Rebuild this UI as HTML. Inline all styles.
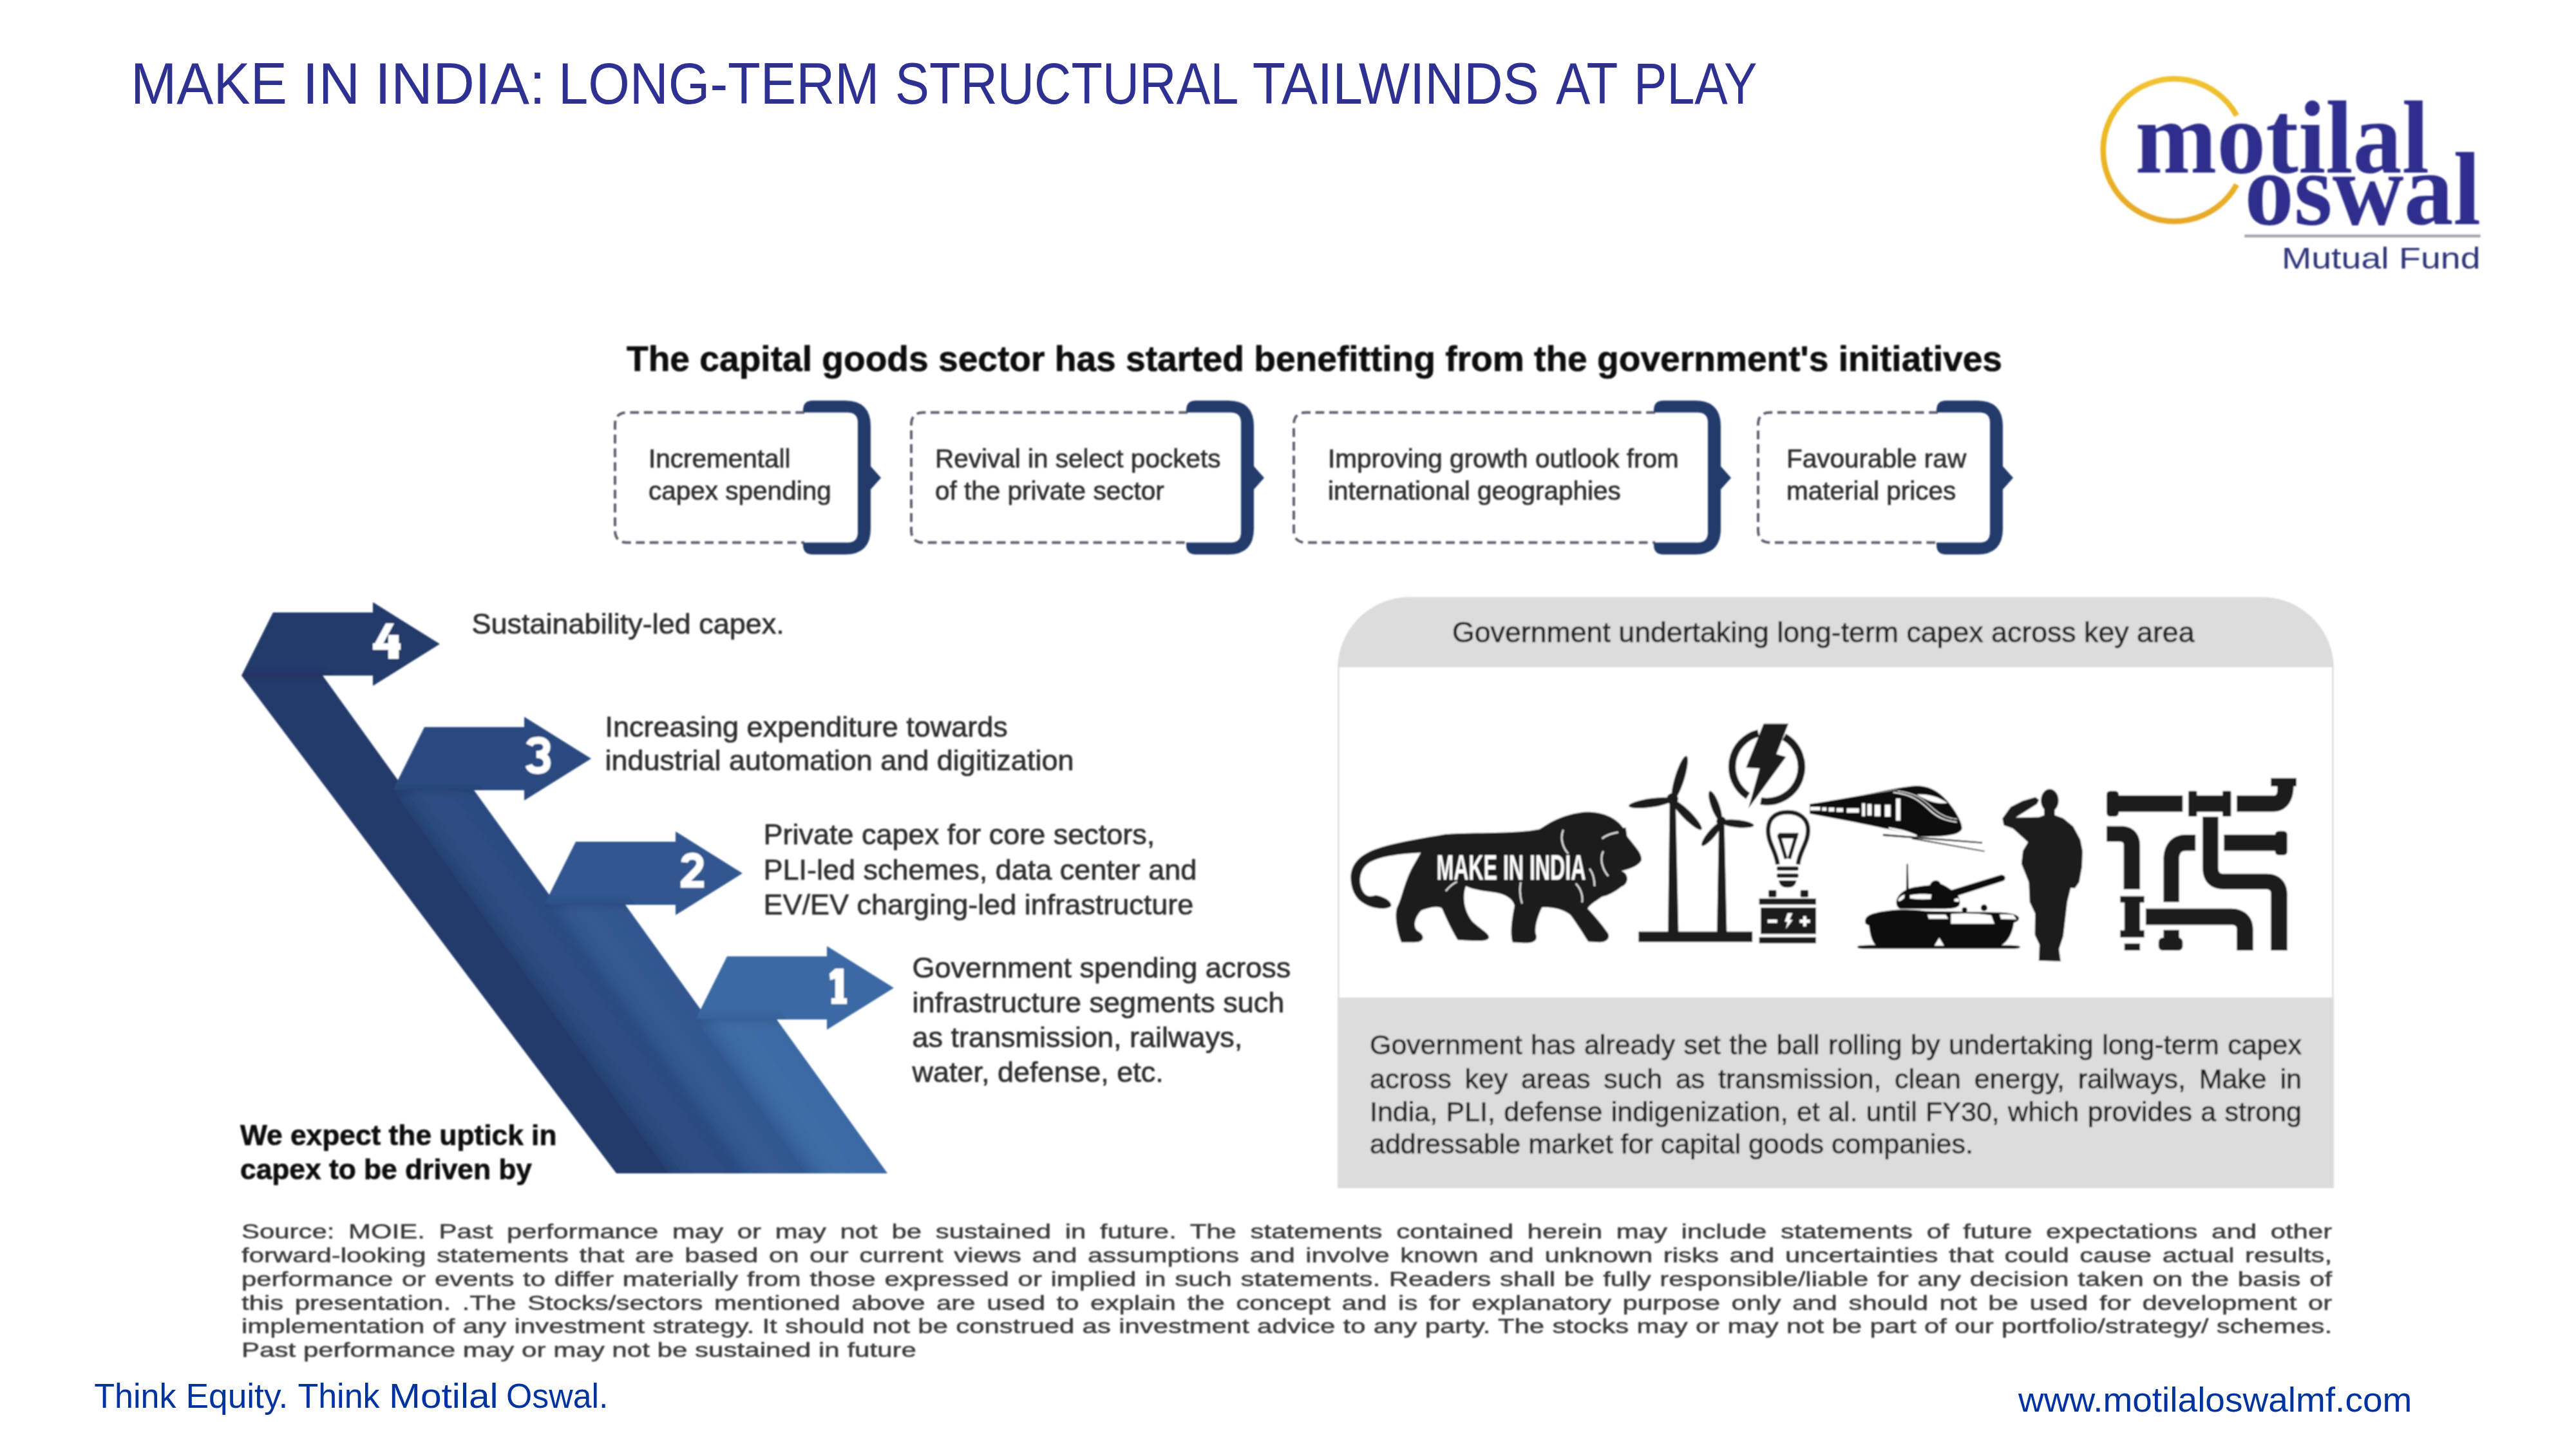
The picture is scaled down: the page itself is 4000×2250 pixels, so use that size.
<!DOCTYPE html>
<html><head><meta charset="utf-8"><title>Make in India</title>
<style>html,body{margin:0;padding:0;background:#fff;} svg{display:block;}</style></head>
<body><svg width="4000" height="2250" viewBox="0 0 4000 2250">
<rect width="4000" height="2250" fill="#fff"/>
<text x="203.0" y="161" font-family="'Liberation Sans', sans-serif" font-size="90.5" font-weight="normal" fill="#2e3192" textLength="242.8" lengthAdjust="spacingAndGlyphs" >MAKE</text>
<text x="469.6" y="161" font-family="'Liberation Sans', sans-serif" font-size="90.5" font-weight="normal" fill="#2e3192" textLength="89.7" lengthAdjust="spacingAndGlyphs" >IN</text>
<text x="582.0" y="161" font-family="'Liberation Sans', sans-serif" font-size="90.5" font-weight="normal" fill="#2e3192" textLength="264.9" lengthAdjust="spacingAndGlyphs" >INDIA:</text>
<text x="867.0" y="161" font-family="'Liberation Sans', sans-serif" font-size="90.5" font-weight="normal" fill="#2e3192" textLength="498.5" lengthAdjust="spacingAndGlyphs" >LONG-TERM</text>
<text x="1390.1" y="161" font-family="'Liberation Sans', sans-serif" font-size="90.5" font-weight="normal" fill="#2e3192" textLength="533.4" lengthAdjust="spacingAndGlyphs" >STRUCTURAL</text>
<text x="1944.7" y="161" font-family="'Liberation Sans', sans-serif" font-size="90.5" font-weight="normal" fill="#2e3192" textLength="445.1" lengthAdjust="spacingAndGlyphs" >TAILWINDS</text>
<text x="2416.0" y="161" font-family="'Liberation Sans', sans-serif" font-size="90.5" font-weight="normal" fill="#2e3192" textLength="96.3" lengthAdjust="spacingAndGlyphs" >AT</text>
<text x="2537.0" y="161" font-family="'Liberation Sans', sans-serif" font-size="90.5" font-weight="normal" fill="#2e3192" textLength="191.4" lengthAdjust="spacingAndGlyphs" >PLAY</text>
<defs><filter id="soft2" x="-2%" y="-2%" width="104%" height="104%"><feGaussianBlur stdDeviation="1.1"/></filter></defs>
<g filter="url(#soft2)">
<svg x="3200" y="80" width="700" height="380" viewBox="0 0 2576 1398">
<defs><linearGradient id="gold" x1="0" y1="0" x2="0" y2="1"><stop offset="0" stop-color="#f1c232"/><stop offset="0.5" stop-color="#e9b824"/><stop offset="1" stop-color="#e8a92a"/></linearGradient></defs>
<path d="M 1005 366 A 407 407 0 1 0 1005 760" fill="none" stroke="url(#gold)" stroke-width="32"/>
<text x="425" y="690" font-family="'Liberation Serif', serif" font-size="590" font-weight="bold" fill="#2d2e8c" textLength="1680" lengthAdjust="spacingAndGlyphs">motilal</text>
<text x="1050" y="985" font-family="'Liberation Serif', serif" font-size="590" font-weight="bold" fill="#2d2e8c" textLength="1350" lengthAdjust="spacingAndGlyphs">oswal</text>
<rect x="1050" y="1046" width="1348" height="16" fill="#a3a3ad"/>
<text x="1262" y="1240" font-family="'Liberation Sans', sans-serif" font-size="172" fill="#2f3478" textLength="1136" lengthAdjust="spacingAndGlyphs">Mutual Fund</text>
</svg>
</g>
<defs><filter id="soft" x="-1%" y="-1%" width="102%" height="102%"><feGaussianBlur stdDeviation="0.9"/></filter></defs>
<g filter="url(#soft)">
<text x="973" y="576" font-family="'Liberation Sans', sans-serif" font-size="55" font-weight="bold" fill="#111" textLength="2136" lengthAdjust="spacingAndGlyphs"  stroke="#111" stroke-width="0.7">The capital goods sector has started benefitting from the government's initiatives</text>
<path d="M 1249 640.5 L 974 640.5 Q 955 640.5 955 659.5 L 955 823.5 Q 955 842.5 974 842.5 L 1249 842.5" fill="none" stroke="#5e5e6e" stroke-width="4" stroke-dasharray="13.8 7.6"/>
<path d="M 1247 640.5 L 1247 637.0 Q 1247 622.0 1262 622.0 L 1312 622.0 Q 1352 622.0 1352 662.0 L 1352 724 L 1368 742 L 1352 760 L 1352 821.0 Q 1352 861.0 1312 861.0 L 1262 861.0 Q 1247 861.0 1247 846.0 L 1247 842.5 L 1316 842.5 Q 1332 842.5 1332 826.5 L 1332 656.5 Q 1332 640.5 1316 640.5 Z" fill="#213a6b"/>
<text x="1007" y="726.3" font-family="'Liberation Sans', sans-serif" font-size="40.5" font-weight="normal" fill="#2e2e2e"  stroke="#2e2e2e" stroke-width="0.7">Incrementall</text>
<text x="1007" y="776" font-family="'Liberation Sans', sans-serif" font-size="40.5" font-weight="normal" fill="#2e2e2e"  stroke="#2e2e2e" stroke-width="0.7">capex spending</text>
<path d="M 1844 640.5 L 1434 640.5 Q 1415 640.5 1415 659.5 L 1415 823.5 Q 1415 842.5 1434 842.5 L 1844 842.5" fill="none" stroke="#5e5e6e" stroke-width="4" stroke-dasharray="13.8 7.6"/>
<path d="M 1842 640.5 L 1842 637.0 Q 1842 622.0 1857 622.0 L 1907 622.0 Q 1947 622.0 1947 662.0 L 1947 724 L 1963 742 L 1947 760 L 1947 821.0 Q 1947 861.0 1907 861.0 L 1857 861.0 Q 1842 861.0 1842 846.0 L 1842 842.5 L 1911 842.5 Q 1927 842.5 1927 826.5 L 1927 656.5 Q 1927 640.5 1911 640.5 Z" fill="#213a6b"/>
<text x="1452" y="726.3" font-family="'Liberation Sans', sans-serif" font-size="40.5" font-weight="normal" fill="#2e2e2e"  stroke="#2e2e2e" stroke-width="0.7">Revival in select pockets</text>
<text x="1452" y="776" font-family="'Liberation Sans', sans-serif" font-size="40.5" font-weight="normal" fill="#2e2e2e"  stroke="#2e2e2e" stroke-width="0.7">of the private sector</text>
<path d="M 2570 640.5 L 2028 640.5 Q 2009 640.5 2009 659.5 L 2009 823.5 Q 2009 842.5 2028 842.5 L 2570 842.5" fill="none" stroke="#5e5e6e" stroke-width="4" stroke-dasharray="13.8 7.6"/>
<path d="M 2568 640.5 L 2568 637.0 Q 2568 622.0 2583 622.0 L 2632 622.0 Q 2672 622.0 2672 662.0 L 2672 724 L 2688 742 L 2672 760 L 2672 821.0 Q 2672 861.0 2632 861.0 L 2583 861.0 Q 2568 861.0 2568 846.0 L 2568 842.5 L 2636 842.5 Q 2652 842.5 2652 826.5 L 2652 656.5 Q 2652 640.5 2636 640.5 Z" fill="#213a6b"/>
<text x="2062" y="726.3" font-family="'Liberation Sans', sans-serif" font-size="40.5" font-weight="normal" fill="#2e2e2e"  stroke="#2e2e2e" stroke-width="0.7">Improving growth outlook from</text>
<text x="2062" y="776" font-family="'Liberation Sans', sans-serif" font-size="40.5" font-weight="normal" fill="#2e2e2e"  stroke="#2e2e2e" stroke-width="0.7">international geographies</text>
<path d="M 3009 640.5 L 2749 640.5 Q 2730 640.5 2730 659.5 L 2730 823.5 Q 2730 842.5 2749 842.5 L 3009 842.5" fill="none" stroke="#5e5e6e" stroke-width="4" stroke-dasharray="13.8 7.6"/>
<path d="M 3007 640.5 L 3007 637.0 Q 3007 622.0 3022 622.0 L 3070 622.0 Q 3110 622.0 3110 662.0 L 3110 724 L 3126 742 L 3110 760 L 3110 821.0 Q 3110 861.0 3070 861.0 L 3022 861.0 Q 3007 861.0 3007 846.0 L 3007 842.5 L 3074 842.5 Q 3090 842.5 3090 826.5 L 3090 656.5 Q 3090 640.5 3074 640.5 Z" fill="#213a6b"/>
<text x="2774" y="726.3" font-family="'Liberation Sans', sans-serif" font-size="40.5" font-weight="normal" fill="#2e2e2e"  stroke="#2e2e2e" stroke-width="0.7">Favourable raw</text>
<text x="2774" y="776" font-family="'Liberation Sans', sans-serif" font-size="40.5" font-weight="normal" fill="#2e2e2e"  stroke="#2e2e2e" stroke-width="0.7">material prices</text>
<defs>
<linearGradient id="sg0" gradientUnits="userSpaceOnUse" x1="375" y1="1049" x2="458.0" y2="989.0"><stop offset="0" stop-color="#0a1430" stop-opacity="0.16"/><stop offset="0.15" stop-color="#0a1430" stop-opacity="0.05"/><stop offset="0.45" stop-color="#ffffff" stop-opacity="0.025"/><stop offset="1" stop-color="#ffffff" stop-opacity="0"/></linearGradient>
<linearGradient id="fg0" gradientUnits="userSpaceOnUse" x1="0" y1="1033" x2="0" y2="1063"><stop offset="0" stop-color="#000" stop-opacity="0"/><stop offset="0.55" stop-color="#000" stop-opacity="0.08"/><stop offset="1" stop-color="#000" stop-opacity="0"/></linearGradient>
<linearGradient id="sg1" gradientUnits="userSpaceOnUse" x1="610" y1="1227" x2="693.0" y2="1167.0"><stop offset="0" stop-color="#0a1430" stop-opacity="0.16"/><stop offset="0.15" stop-color="#0a1430" stop-opacity="0.05"/><stop offset="0.45" stop-color="#ffffff" stop-opacity="0.025"/><stop offset="1" stop-color="#ffffff" stop-opacity="0"/></linearGradient>
<linearGradient id="fg1" gradientUnits="userSpaceOnUse" x1="0" y1="1211" x2="0" y2="1241"><stop offset="0" stop-color="#000" stop-opacity="0"/><stop offset="0.55" stop-color="#000" stop-opacity="0.08"/><stop offset="1" stop-color="#000" stop-opacity="0"/></linearGradient>
<linearGradient id="sg2" gradientUnits="userSpaceOnUse" x1="845" y1="1405" x2="928.0" y2="1345.0"><stop offset="0" stop-color="#0a1430" stop-opacity="0.16"/><stop offset="0.15" stop-color="#0a1430" stop-opacity="0.05"/><stop offset="0.45" stop-color="#ffffff" stop-opacity="0.025"/><stop offset="1" stop-color="#ffffff" stop-opacity="0"/></linearGradient>
<linearGradient id="fg2" gradientUnits="userSpaceOnUse" x1="0" y1="1389" x2="0" y2="1419"><stop offset="0" stop-color="#000" stop-opacity="0"/><stop offset="0.55" stop-color="#000" stop-opacity="0.08"/><stop offset="1" stop-color="#000" stop-opacity="0"/></linearGradient>
<linearGradient id="sg3" gradientUnits="userSpaceOnUse" x1="1080" y1="1583" x2="1163.0" y2="1523.0"><stop offset="0" stop-color="#0a1430" stop-opacity="0.16"/><stop offset="0.15" stop-color="#0a1430" stop-opacity="0.05"/><stop offset="0.45" stop-color="#ffffff" stop-opacity="0.025"/><stop offset="1" stop-color="#ffffff" stop-opacity="0"/></linearGradient>
<linearGradient id="fg3" gradientUnits="userSpaceOnUse" x1="0" y1="1567" x2="0" y2="1597"><stop offset="0" stop-color="#000" stop-opacity="0"/><stop offset="0.55" stop-color="#000" stop-opacity="0.08"/><stop offset="1" stop-color="#000" stop-opacity="0"/></linearGradient>
</defs>
<path d="M 424.0 951.0 L 579.0 951.0 L 579.0 935.0 L 683.0 1000.0 L 579.0 1065.0 L 579.0 1049.0 L 501.0 1049.0 L 1057.6 1822.0 L 957.1 1822.0 L 375.0 1049.0 Z" fill="#233a6b"/>
<clipPath id="cp0"><path d="M 424.0 951.0 L 579.0 951.0 L 579.0 935.0 L 683.0 1000.0 L 579.0 1065.0 L 579.0 1049.0 L 501.0 1049.0 L 1057.6 1822.0 L 957.1 1822.0 L 375.0 1049.0 Z"/></clipPath>
<g clip-path="url(#cp0)">
<path d="M 363.0 1033.0 L 505.0 1033.0 L 526.6 1063 L 384.6 1063 Z" fill="url(#fg0)"/>
</g>
<path d="M 659.0 1129.0 L 814.0 1129.0 L 814.0 1113.0 L 918.0 1178.0 L 814.0 1243.0 L 814.0 1227.0 L 736.0 1227.0 L 1164.4 1822.0 L 1038.4 1822.0 L 610.0 1227.0 Z" fill="#2a4a80"/>
<clipPath id="cp1"><path d="M 659.0 1129.0 L 814.0 1129.0 L 814.0 1113.0 L 918.0 1178.0 L 814.0 1243.0 L 814.0 1227.0 L 736.0 1227.0 L 1164.4 1822.0 L 1038.4 1822.0 L 610.0 1227.0 Z"/></clipPath>
<g clip-path="url(#cp1)">
<path d="M 610.0 1227.0 L 736.0 1227.0 L 1164.4 1822 L 1038.4 1822 Z" fill="url(#sg1)"/>
<path d="M 598.0 1211.0 L 740.0 1211.0 L 761.6 1241 L 619.6 1241 Z" fill="url(#fg1)"/>
</g>
<path d="M 894.0 1307.0 L 1049.0 1307.0 L 1049.0 1291.0 L 1153.0 1356.0 L 1049.0 1421.0 L 1049.0 1405.0 L 971.0 1405.0 L 1271.2 1822.0 L 1145.2 1822.0 L 845.0 1405.0 Z" fill="#30568f"/>
<clipPath id="cp2"><path d="M 894.0 1307.0 L 1049.0 1307.0 L 1049.0 1291.0 L 1153.0 1356.0 L 1049.0 1421.0 L 1049.0 1405.0 L 971.0 1405.0 L 1271.2 1822.0 L 1145.2 1822.0 L 845.0 1405.0 Z"/></clipPath>
<g clip-path="url(#cp2)">
<path d="M 845.0 1405.0 L 971.0 1405.0 L 1271.2 1822 L 1145.2 1822 Z" fill="url(#sg2)"/>
<path d="M 833.0 1389.0 L 975.0 1389.0 L 996.6 1419 L 854.6 1419 Z" fill="url(#fg2)"/>
</g>
<path d="M 1129.0 1485.0 L 1284.0 1485.0 L 1284.0 1469.0 L 1388.0 1534.0 L 1284.0 1599.0 L 1284.0 1583.0 L 1206.0 1583.0 L 1378.1 1822.0 L 1252.1 1822.0 L 1080.0 1583.0 Z" fill="#3a69a4"/>
<clipPath id="cp3"><path d="M 1129.0 1485.0 L 1284.0 1485.0 L 1284.0 1469.0 L 1388.0 1534.0 L 1284.0 1599.0 L 1284.0 1583.0 L 1206.0 1583.0 L 1378.1 1822.0 L 1252.1 1822.0 L 1080.0 1583.0 Z"/></clipPath>
<g clip-path="url(#cp3)">
<path d="M 1080.0 1583.0 L 1206.0 1583.0 L 1378.1 1822 L 1252.1 1822 Z" fill="url(#sg3)"/>
<path d="M 1068.0 1567.0 L 1210.0 1567.0 L 1231.6 1597 L 1089.6 1597 Z" fill="url(#fg3)"/>
</g>
<g fill="#fff">
<path d="M 599 968 L 612 968 L 594 1001 L 581 1001 Z"/>
<rect x="579" y="999" width="43" height="10"/>
<rect x="603" y="986" width="16" height="37"/>
<rect x="1297" y="1504" width="13" height="55"/>
<path d="M 1297 1504 L 1310 1504 L 1306 1517 L 1289 1522 L 1288 1512 Z"/>
<rect x="1291" y="1550" width="24" height="9"/>
<rect x="1057" y="1368" width="36" height="10.5"/>
</g>
<g fill="none" stroke="#fff" stroke-width="11">
<path d="M 822 1157 C 825 1150 830 1149.5 836 1149.5 C 845 1149.5 849 1154 849 1160 C 849 1167 843 1171.5 833 1171.5 C 845 1171.5 849.5 1178 849.5 1185 C 849.5 1193 843 1196.5 835 1196.5 C 828 1196.5 823 1194 821 1188"/>
<path d="M 1063 1339 C 1063.5 1333 1068 1329.5 1075 1329.5 C 1083 1329.5 1087 1334 1087 1340 C 1087 1346 1083 1350 1077 1356 L 1062 1371"/>
</g>
<text x="732.5" y="983.5" font-family="'Liberation Sans', sans-serif" font-size="45" font-weight="normal" fill="#2e2e2e"  stroke="#2e2e2e" stroke-width="0.7">Sustainability-led capex.</text>
<text x="939.5" y="1144" font-family="'Liberation Sans', sans-serif" font-size="45" font-weight="normal" fill="#2e2e2e"  stroke="#2e2e2e" stroke-width="0.7">Increasing expenditure towards</text>
<text x="939.5" y="1196.4" font-family="'Liberation Sans', sans-serif" font-size="45" font-weight="normal" fill="#2e2e2e"  stroke="#2e2e2e" stroke-width="0.7">industrial automation and digitization</text>
<text x="1185.5" y="1311" font-family="'Liberation Sans', sans-serif" font-size="45" font-weight="normal" fill="#2e2e2e"  stroke="#2e2e2e" stroke-width="0.7">Private capex for core sectors,</text>
<text x="1185.5" y="1365.5" font-family="'Liberation Sans', sans-serif" font-size="45" font-weight="normal" fill="#2e2e2e"  stroke="#2e2e2e" stroke-width="0.7">PLI-led schemes, data center and</text>
<text x="1185.5" y="1419.5" font-family="'Liberation Sans', sans-serif" font-size="45" font-weight="normal" fill="#2e2e2e"  stroke="#2e2e2e" stroke-width="0.7">EV/EV charging-led infrastructure</text>
<text x="1416.5" y="1518" font-family="'Liberation Sans', sans-serif" font-size="45" font-weight="normal" fill="#2e2e2e"  stroke="#2e2e2e" stroke-width="0.7">Government spending across</text>
<text x="1416.5" y="1572" font-family="'Liberation Sans', sans-serif" font-size="45" font-weight="normal" fill="#2e2e2e"  stroke="#2e2e2e" stroke-width="0.7">infrastructure segments such</text>
<text x="1416.5" y="1625.5" font-family="'Liberation Sans', sans-serif" font-size="45" font-weight="normal" fill="#2e2e2e"  stroke="#2e2e2e" stroke-width="0.7">as transmission, railways,</text>
<text x="1416.5" y="1680" font-family="'Liberation Sans', sans-serif" font-size="45" font-weight="normal" fill="#2e2e2e"  stroke="#2e2e2e" stroke-width="0.7">water, defense, etc.</text>
<text x="373" y="1777.5" font-family="'Liberation Sans', sans-serif" font-size="44.3" font-weight="bold" fill="#111"  stroke="#111" stroke-width="0.7">We expect the uptick in</text>
<text x="373" y="1830.5" font-family="'Liberation Sans', sans-serif" font-size="44.3" font-weight="bold" fill="#111"  stroke="#111" stroke-width="0.7">capex to be driven by</text>
<path d="M 2077 1036 L 2077 1039 A 112 112 0 0 1 2189 927 L 3512 927 A 112 112 0 0 1 3624 1039 L 3624 1036 Z" fill="#dcdcdc"/>
<rect x="2077" y="1036" width="1547" height="513" fill="#ffffff"/>
<rect x="2077" y="1036" width="3" height="513" fill="#e2e2e2"/>
<rect x="3621" y="1036" width="3" height="513" fill="#e2e2e2"/>
<rect x="2077" y="1549" width="1547" height="296" fill="#dcdcdc"/>
<text x="2255" y="997" font-family="'Liberation Sans', sans-serif" font-size="44.7" font-weight="normal" fill="#222"  stroke="#222" stroke-width="0.7">Government undertaking long-term capex across key area</text>
<g transform="translate(2127 1637) scale(1.0 1)"><text x="0" y="0" font-family="'Liberation Sans', sans-serif" font-size="43" font-weight="normal" fill="#222" word-spacing="1.527"  stroke="#222" stroke-width="0.7">Government has already set the ball rolling by undertaking long-term capex</text></g>
<g transform="translate(2127 1689.5) scale(1.0 1)"><text x="0" y="0" font-family="'Liberation Sans', sans-serif" font-size="43" font-weight="normal" fill="#222" word-spacing="8.795"  stroke="#222" stroke-width="0.7">across key areas such as transmission, clean energy, railways, Make in</text></g>
<g transform="translate(2127 1741) scale(1.0 1)"><text x="0" y="0" font-family="'Liberation Sans', sans-serif" font-size="43" font-weight="normal" fill="#222" word-spacing="1.381"  stroke="#222" stroke-width="0.7">India, PLI, defense indigenization, et al. until FY30, which provides a strong</text></g>
<text x="2127" y="1791.3" font-family="'Liberation Sans', sans-serif" font-size="43" font-weight="normal" fill="#222"  stroke="#222" stroke-width="0.7">addressable market for capital goods companies.</text>
<!-- LION -->
<svg x="2080" y="1240" width="500" height="240" viewBox="0 0 2576 1236">
<path fill="#1c1c1c" d="M 850 285 C 1100 268 1400 285 1600 245 C 1700 175 1810 125 1950 108 C 2100 100 2210 150 2270 235 L 2290 230 L 2300 300 C 2360 380 2425 440 2415 495 C 2385 545 2310 565 2255 580 C 2320 600 2315 685 2255 705 C 2205 745 2150 775 2100 785 C 2050 820 2000 850 1985 880 C 2050 950 2100 1010 2135 1060 C 2175 1100 2150 1150 2080 1150 L 1990 1145 C 1960 1100 1900 1000 1850 935 C 1800 885 1700 865 1620 870 C 1580 950 1560 1040 1570 1080 C 1590 1130 1560 1160 1470 1155 L 1385 1150 C 1360 1080 1380 960 1400 855 C 1380 785 1300 755 1200 745 C 1120 735 1060 722 1010 700 C 980 800 1000 900 1060 980 C 1120 1040 1205 1080 1195 1115 C 1180 1145 1100 1140 1000 1135 L 945 1130 C 900 1060 850 950 820 880 C 780 850 700 880 655 895 C 600 950 585 1030 625 1060 C 685 1090 685 1150 600 1150 L 495 1150 C 455 1050 440 930 460 870 C 500 800 520 650 600 520 L 650 432 C 500 440 300 460 220 525 C 150 585 150 700 200 760 C 230 790 260 782 285 772 C 360 780 425 830 412 862 C 380 892 280 882 220 852 C 150 820 98 760 90 650 C 82 540 150 450 300 400 C 450 350 650 320 850 285 Z"/>
<text x="775" y="650" font-family="'Liberation Sans', sans-serif" font-size="285" font-weight="bold" fill="#fff" textLength="1195" lengthAdjust="spacingAndGlyphs">MAKE IN INDIA</text>
<path d="M 1790 250 C 1760 320 1790 400 1830 440 M 2100 320 C 2150 280 2200 275 2230 270 M 2110 420 C 2080 480 2100 560 2150 620 M 2000 560 C 2030 600 2040 650 2040 700 M 1890 680 C 1930 720 1950 780 1940 830 M 850 740 C 880 700 910 680 940 665 M 1450 670 C 1440 720 1445 790 1460 840" stroke="#ddd" stroke-width="14" fill="none"/>
</svg>
<!-- TURBINES / BOLT / BULB / BATTERY -->
<svg x="2520" y="1110" width="300" height="360" viewBox="0 0 1208 1449">
<g fill="#1c1c1c">
<!-- turbine 1 -->
<path d="M 292 545 L 330 545 L 348 1365 L 282 1365 Z"/>
<ellipse cx="355" cy="395" rx="30" ry="145" transform="rotate(17 355 395)"/>
<ellipse cx="175" cy="550" rx="140" ry="28" transform="rotate(-8 175 550)"/>
<ellipse cx="400" cy="625" rx="130" ry="28" transform="rotate(45 400 625)"/>
<circle cx="310" cy="525" r="36"/>
<!-- turbine 2 -->
<path d="M 600 690 L 635 690 L 650 1365 L 588 1365 Z"/>
<ellipse cx="578" cy="570" rx="26" ry="100" transform="rotate(-20 578 570)"/>
<ellipse cx="715" cy="680" rx="105" ry="24" transform="rotate(6 715 680)"/>
<ellipse cx="555" cy="745" rx="24" ry="95" transform="rotate(40 555 745)"/>
<circle cx="615" cy="665" r="30"/>
<rect x="98" y="1355" width="712" height="65"/>
<!-- bolt ring -->
<path d="M 847.5 114.4 A 217 217 0 0 0 781.8 507.0" fill="none" stroke="#1c1c1c" stroke-width="46"/>
<path d="M 1008.5 137.1 A 217 217 0 0 1 862.3 538.7" fill="none" stroke="#1c1c1c" stroke-width="46"/>
<path d="M 880 55 L 1035 55 L 960 245 L 1020 262 L 785 585 L 855 335 L 770 330 Z"/>
<!-- bulb -->
<path d="M 968 935 C 958 850 905 800 908 715 C 912 640 960 608 1032 608 C 1104 608 1158 650 1158 720 C 1158 800 1105 850 1095 935" fill="none" stroke="#1c1c1c" stroke-width="27"/>
<path d="M 975 750 L 1085 750 L 1040 900 M 975 750 L 1020 900" fill="none" stroke="#1c1c1c" stroke-width="22"/>
<rect x="968" y="745" width="124" height="28"/>
<rect x="962" y="948" width="136" height="26" rx="10"/>
<rect x="962" y="992" width="136" height="26" rx="10"/>
<path d="M 975 1035 L 1085 1035 C 1080 1070 1060 1080 1030 1080 C 1000 1080 980 1070 975 1035 Z"/>
<!-- battery -->
<rect x="910" y="1095" width="50" height="45" rx="8"/>
<rect x="1110" y="1095" width="50" height="45" rx="8"/>
<rect x="852" y="1148" width="370" height="38"/>
<rect x="862" y="1205" width="350" height="165"/>
<rect x="852" y="1390" width="370" height="38"/>
</g>
<g stroke="#fff" stroke-width="20" fill="none"><path d="M 905 1290 L 965 1290 M 1105 1290 L 1170 1290 M 1137 1258 L 1137 1322"/></g>
<path d="M 1030 1240 L 1060 1240 L 1042 1280 L 1062 1282 L 1018 1340 L 1030 1295 L 1012 1292 Z" fill="#fff"/>
</svg>
<!-- TRAIN / TANK -->
<svg x="2800" y="1200" width="290" height="130" viewBox="0 0 2576 1155">
<path fill="#0f0f0f" d="M 90 430 C 300 400 700 330 1000 270 C 1200 230 1400 190 1550 180 C 1700 175 1850 230 1980 380 C 2100 520 2190 680 2190 760 C 2190 820 2100 860 1900 875 L 1600 885 C 1400 820 1000 740 600 660 L 90 565 Z"/>
<path fill="#0f0f0f" d="M 1100 845 L 2470 955 L 2470 975 L 1100 870 Z"/>
<path fill="#0f0f0f" d="M 1500 895 L 2500 1075 L 2500 1090 L 1500 915 Z"/>
<g fill="#fff">
<rect x="95" y="470" width="140" height="50"/><rect x="260" y="475" width="60" height="50"/><rect x="350" y="480" width="80" height="55"/><rect x="460" y="485" width="90" height="55"/><rect x="600" y="490" width="170" height="60"/>
<rect x="810" y="420" width="45" height="180"/><rect x="885" y="430" width="60" height="160"/><rect x="985" y="440" width="80" height="160"/><rect x="1125" y="440" width="80" height="165"/><rect x="1280" y="355" width="60" height="305"/>
<path d="M 1570 300 C 1700 290 1850 320 1990 415 C 1900 430 1780 425 1570 305 Z"/>
<path d="M 1180 750 C 1300 770 1450 800 1570 860 L 1560 880 C 1420 840 1300 800 1180 775 Z"/>
</g>
<path d="M 1240 270 C 1500 300 1600 380 1750 520 C 1850 610 1950 660 2120 680" fill="none" stroke="#fff" stroke-width="16"/>
<path d="M 1300 250 C 1550 280 1650 360 1800 500 C 1900 590 2000 630 2130 640" fill="none" stroke="#fff" stroke-width="10"/>
<path d="M 120 420 C 500 360 900 290 1300 230" fill="none" stroke="#fff" stroke-width="10" opacity="0.6"/>
</svg>
<svg x="2880" y="1340" width="260" height="140" viewBox="0 0 2576 1387">
<g fill="#0d0d0d">
<path d="M 790 470 L 800 15 L 820 15 L 830 470 Z"/>
<path d="M 40 1292 C 40 1268 100 1262 400 1262 L 2400 1265 C 2520 1268 2545 1280 2545 1292 C 2545 1310 2500 1320 2400 1320 L 200 1320 C 80 1320 40 1312 40 1292 Z"/>
<path d="M 160 900 C 160 830 220 790 320 770 C 500 720 800 700 1100 740 L 2200 760 C 2350 760 2480 780 2520 830 C 2540 870 2510 900 2450 920 C 2430 1050 2380 1200 2250 1272 L 330 1272 C 250 1200 230 1050 220 960 C 170 950 160 930 160 900 Z"/>
<path d="M 640 610 C 640 520 720 430 850 390 C 950 360 1100 350 1160 340 C 1170 260 1300 240 1320 320 C 1420 360 1500 420 1560 470 C 1610 520 1625 580 1615 640 C 1590 690 1520 705 1400 705 L 700 705 C 660 690 640 650 640 610 Z"/>
<path d="M 1440 430 L 2240 185 C 2310 170 2340 240 2290 275 L 1520 525 Z"/>
<circle cx="1990" cy="690" r="50"/><circle cx="1690" cy="720" r="40"/>
</g>
<g fill="#fff">
<path d="M 850 495 C 950 475 1100 475 1180 485 L 1170 555 C 1050 565 920 555 850 545 Z"/>
<path d="M 670 560 C 690 520 730 495 770 485 L 760 540 C 730 570 695 590 670 590 Z"/>
<path d="M 1530 560 C 1560 540 1600 540 1610 560 L 1600 600 L 1530 590 Z"/>
<path d="M 1120 795 L 1400 795 L 1440 860 L 1140 860 Z"/>
<path d="M 1480 785 C 1700 765 1900 775 2100 805 L 2150 935 L 1480 935 Z"/>
<path d="M 2230 790 L 2440 795 L 2490 870 L 2250 862 Z"/>
<path d="M 1225 1272 L 1300 1150 L 1375 1272 Z"/>
</g>
</svg>
<!-- SOLDIER / PIPES -->
<svg x="3100" y="1180" width="500" height="320" viewBox="0 0 2264 1449">
<g fill="#1c1c1c">
<ellipse cx="375" cy="285" rx="62" ry="80"/><rect x="335" y="320" width="75" height="90"/>
<path d="M 345 385 L 300 402 L 135 405 L 285 310 L 300 282 L 275 262 L 185 288 L 100 330 L 42 412 L 52 460 L 115 482 L 222 578 L 186 640 L 176 730 L 228 860 L 234 1000 L 272 1080 L 270 1230 L 303 1300 L 298 1412 L 452 1416 L 440 1330 L 470 1240 L 498 1000 L 522 900 L 552 902 L 582 860 L 602 750 L 606 640 L 590 560 L 540 468 L 470 410 L 410 388 Z"/>
<!-- pipes -->
<rect x="790" y="250" width="520" height="115"/>
<rect x="775" y="218" width="85" height="180" rx="25"/>
<rect x="1350" y="218" width="60" height="180" rx="8"/>
<rect x="1590" y="218" width="60" height="180" rx="8"/>
<rect x="1405" y="250" width="190" height="115"/>
<path d="M 1690 250 L 1950 250 C 1975 250 1975 230 1975 185 L 2090 185 C 2090 300 2030 365 1950 365 L 1690 365 Z"/>
<rect x="1930" y="128" width="180" height="58"/>
<path d="M 775 465 L 880 465 C 960 465 1010 520 1010 600 L 1010 910 L 895 910 L 895 600 C 895 580 885 575 860 575 L 775 575 Z"/>
<rect x="870" y="958" width="170" height="45"/>
<rect x="900" y="1000" width="110" height="200"/>
<rect x="870" y="1198" width="170" height="50"/>
<rect x="900" y="1290" width="110" height="50"/>
<path d="M 1175 1000 L 1175 700 C 1175 600 1230 525 1330 525 L 1400 525 L 1400 640 L 1330 640 C 1300 640 1285 660 1285 700 L 1285 1000 Z"/>
<path d="M 1450 400 L 1560 400 L 1560 750 C 1560 790 1570 800 1600 800 L 1900 800 C 1990 800 2045 860 2045 940 L 2045 1340 L 1930 1340 L 1930 940 C 1930 920 1920 910 1900 910 L 1600 910 C 1500 910 1450 850 1450 760 Z"/>
<rect x="1600" y="525" width="400" height="115"/>
<rect x="1960" y="500" width="85" height="170" rx="25"/>
<path d="M 1050 1045 L 1650 1045 C 1740 1045 1805 1100 1805 1190 L 1805 1340 L 1690 1340 L 1690 1190 C 1690 1170 1680 1160 1650 1160 L 1050 1160 Z"/>
<rect x="1175" y="1195" width="110" height="60"/>
<rect x="1140" y="1250" width="170" height="90" rx="30"/>
</g>
</svg>

<g transform="translate(375 1922.5) scale(1.31 1)"><text x="0" y="0" font-family="'Liberation Sans', sans-serif" font-size="32" font-weight="normal" fill="#3a3a3a" word-spacing="7.642" stroke="#3a3a3a" stroke-width="0.5">Source: MOIE. Past performance may or may not be sustained in future. The statements contained herein may include statements of future expectations and other</text></g>
<g transform="translate(375 1959.6) scale(1.31 1)"><text x="0" y="0" font-family="'Liberation Sans', sans-serif" font-size="32" font-weight="normal" fill="#3a3a3a" word-spacing="3.747" stroke="#3a3a3a" stroke-width="0.5">forward-looking statements that are based on our current views and assumptions and involve known and unknown risks and uncertainties that could cause actual results,</text></g>
<g transform="translate(375 1996.7) scale(1.31 1)"><text x="0" y="0" font-family="'Liberation Sans', sans-serif" font-size="32" font-weight="normal" fill="#3a3a3a" word-spacing="1.563" stroke="#3a3a3a" stroke-width="0.5">performance or events to differ materially from those expressed or implied in such statements. Readers shall be fully responsible/liable for any decision taken on the basis of</text></g>
<g transform="translate(375 2033.6) scale(1.31 1)"><text x="0" y="0" font-family="'Liberation Sans', sans-serif" font-size="32" font-weight="normal" fill="#3a3a3a" word-spacing="4.509" stroke="#3a3a3a" stroke-width="0.5">this presentation. .The Stocks/sectors mentioned above are used to explain the concept and is for explanatory purpose only and should not be used for development or</text></g>
<g transform="translate(375 2070.2) scale(1.31 1)"><text x="0" y="0" font-family="'Liberation Sans', sans-serif" font-size="32" font-weight="normal" fill="#3a3a3a" word-spacing="0.497" stroke="#3a3a3a" stroke-width="0.5">implementation of any investment strategy. It should not be construed as investment advice to any party. The stocks may or may not be part of our portfolio/strategy/ schemes.</text></g>
<text x="375" y="2106.8" font-family="'Liberation Sans', sans-serif" font-size="32" font-weight="normal" fill="#3a3a3a" textLength="1048" lengthAdjust="spacingAndGlyphs" stroke="#3a3a3a" stroke-width="0.5">Past performance may or may not be sustained in future</text>
</g>
<text x="146.3" y="2186" font-family="'Liberation Sans', sans-serif" font-size="53.5" font-weight="normal" fill="#0033a0" textLength="127.2" lengthAdjust="spacingAndGlyphs" >Think</text>
<text x="288.5" y="2186" font-family="'Liberation Sans', sans-serif" font-size="53.5" font-weight="normal" fill="#0033a0" textLength="158.9" lengthAdjust="spacingAndGlyphs" >Equity.</text>
<text x="462.4" y="2186" font-family="'Liberation Sans', sans-serif" font-size="53.5" font-weight="normal" fill="#0033a0" textLength="127.2" lengthAdjust="spacingAndGlyphs" >Think</text>
<text x="604.1" y="2186" font-family="'Liberation Sans', sans-serif" font-size="53.5" font-weight="normal" fill="#0033a0" textLength="169.5" lengthAdjust="spacingAndGlyphs" >Motilal</text>
<text x="786.0" y="2186" font-family="'Liberation Sans', sans-serif" font-size="53.5" font-weight="normal" fill="#0033a0" textLength="158.4" lengthAdjust="spacingAndGlyphs" >Oswal.</text>
<text x="3134.0" y="2192" font-family="'Liberation Sans', sans-serif" font-size="53.5" font-weight="normal" fill="#0033a0" textLength="611.3" lengthAdjust="spacingAndGlyphs" >www.motilaloswalmf.com</text>
</svg></body></html>
